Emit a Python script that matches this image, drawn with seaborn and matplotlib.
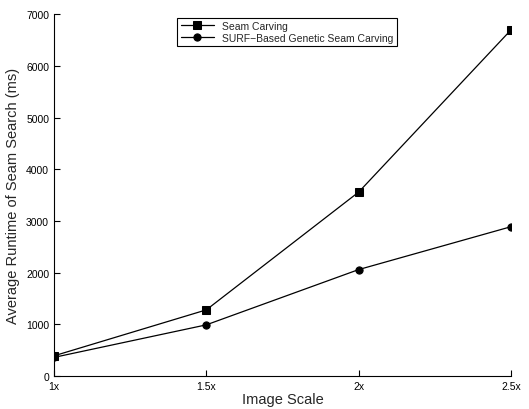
import pandas as pd
import matplotlib
matplotlib.use("Agg")
import matplotlib.pyplot as plt
import seaborn as sns

# valori
scale = [1.0, 1.5, 2.0, 2.5]
scale_labels = ["1x", "1.5x", "2x", "2.5x"]
seam_carving = [390, 1280, 3560, 6700]
surf_genetic = [360, 990, 2060, 2890]
methods = ["Seam Carving", "SURF\u2212Based Genetic Seam Carving"]

df = pd.DataFrame({
    "scale": scale * 2,
    "runtime": seam_carving + surf_genetic,
    "method": [methods[0]] * 4 + [methods[1]] * 4,
})

sns.set_style("ticks")
plt.rcParams["font.family"] = ["Liberation Sans", "DejaVu Sans"]
plt.rcParams["xtick.direction"] = "in"
plt.rcParams["ytick.direction"] = "in"

fig = plt.figure(figsize=(5.29, 4.10), dpi=100)
ax = fig.add_axes([0.102, 0.0805, 0.864, 0.882])

sns.lineplot(data=df, x="scale", y="runtime", hue="method", style="method",
             markers=["s", "o"], dashes=False, palette=["black", "black"],
             markersize=5.2, linewidth=0.9, markeredgecolor="black", ax=ax)

ax.set_xlim(1, 2.5)
ax.set_ylim(0, 7000)
ax.set_xticks(scale)
ax.set_xticklabels(scale_labels)
ax.set_yticks(range(0, 7001, 1000))
ax.tick_params(labelsize=7.5, length=4, width=0.8, colors="black")
for s in ["top", "right"]:
    ax.spines[s].set_visible(False)
for s in ["left", "bottom"]:
    ax.spines[s].set_linewidth(0.8)
    ax.spines[s].set_color("black")
ax.set_xlabel("Image Scale", fontsize=10.5, labelpad=1)
ax.set_ylabel("Average Runtime of Seam Search (ms)", fontsize=10.5, labelpad=4)

leg = ax.legend(loc="upper center", bbox_to_anchor=(0.51, 1.005), fontsize=7.5,
                frameon=True, fancybox=False, edgecolor="black", framealpha=1,
                borderpad=0.3, handlelength=3.2, labelspacing=0.2)
leg.get_frame().set_linewidth(0.8)

fig.savefig("out.png", dpi=100)
